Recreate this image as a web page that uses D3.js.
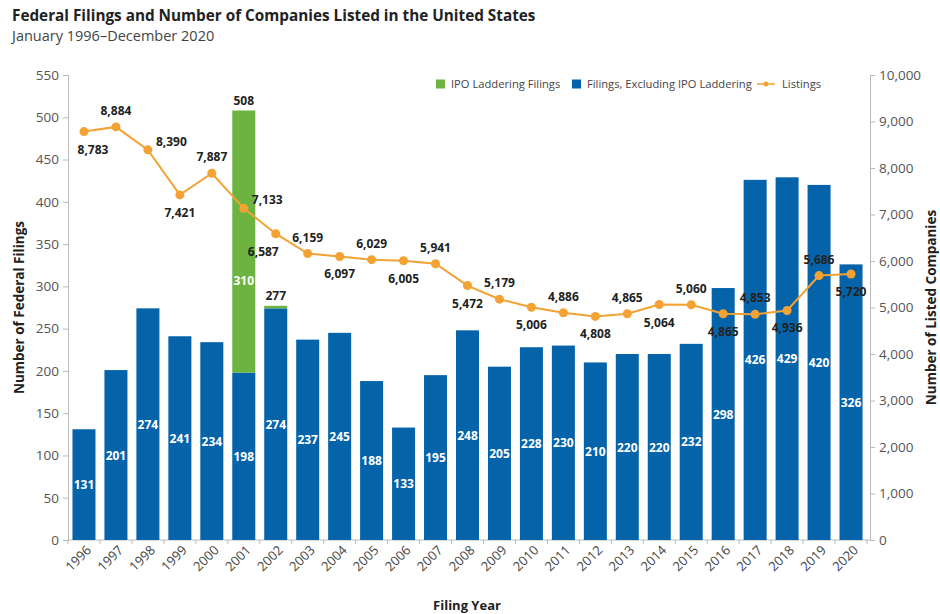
<!DOCTYPE html>
<html>
<head>
<meta charset="utf-8">
<script src="https://cdn.jsdelivr.net/npm/d3@7"></script>
<style>
  body { margin: 0; background: #fff; }
  svg text { font-family: "Open Sans", "Noto Sans", sans-serif; }
</style>
</head>
<body>
<div id="chart"></div>
<script>
// DATA
////////////////////////////
var years = ["1996","1997","1998","1999","2000","2001","2002","2003","2004","2005","2006","2007","2008",
             "2009","2010","2011","2012","2013","2014","2015","2016","2017","2018","2019","2020"];
var filingsExLaddering = [131,201,274,241,234,198,274,237,245,188,133,195,248,205,228,230,210,220,220,232,298,426,429,420,326];
var laddering          = [0,0,0,0,0,310,3,0,0,0,0,0,0,0,0,0,0,0,0,0,0,0,0,0,0];
var listings = [8783,8884,8390,7421,7887,7133,6587,6159,6097,6029,6005,5941,5472,5179,5006,4886,4808,4865,5064,5060,4865,4853,4936,5686,5720];
// where the listings label sits: a = above, b = below, r = right, br / bl = below shifted
var labelPos = ["br","a","r","b","a","r","bl","a","b","a","b","a","b","a","b","a","b","a","b","a","b","a","b","a","b"];
var leftTicks = d3.range(0, 551, 50);
var rightTicks = d3.range(0, 10001, 1000);

// SETUP
////////////////////////////
var width = 940, height = 614;
var margin = {left: 68, right: 72, top: 75, bottom: 74};

var blue = "#0563a9", green = "#6cb33f", orange = "#f3a233";

var svg = d3.select("#chart").append("svg")
    .attr("width", width)
    .attr("height", height);

var x = d3.scaleBand()
    .domain(years)
    .range([margin.left, 867])
    .paddingInner(0.28)
    .paddingOuter(0.14);

var yL = d3.scaleLinear().domain([0, 550]).range([height - margin.bottom, margin.top]);
var yR = d3.scaleLinear().domain([0, 10000]).range([height - margin.bottom, margin.top]);
var y0 = yL(0);

// TITLES
svg.append("text").attr("x", 12).attr("y", 21)
    .style("font-size", "15.3px").style("font-weight", "bold").attr("fill", "#222")
    .text("Federal Filings and Number of Companies Listed in the United States");
svg.append("text").attr("x", 12).attr("y", 41)
    .style("font-size", "14.5px").attr("fill", "#444")
    .text("January 1996\u2013December 2020");

// AXES
////////////////////////////
var axisL = svg.append("g")
    .attr("transform", "translate(" + margin.left + ",0)")
    .call(d3.axisLeft(yL).tickValues(leftTicks).tickSize(5).tickPadding(4));
var axisR = svg.append("g")
    .attr("transform", "translate(870,0)")
    .call(d3.axisRight(yR).tickValues(rightTicks).tickSize(5).tickPadding(4).tickFormat(d3.format(",")));
[axisL, axisR].forEach(function(a) {
  a.select(".domain").attr("stroke", "#bbb");
  a.selectAll(".tick line").attr("stroke", "#bbb");
  a.selectAll(".tick text").attr("fill", "#555").style("font-size", "13.5px");
});

// bottom axis: baseline, ticks between bands, rotated year labels
svg.append("line")
    .attr("x1", margin.left).attr("x2", 870)
    .attr("y1", y0).attr("y2", y0)
    .attr("stroke", "#bbb");
svg.selectAll(".xtick")
    .data(d3.range(years.length + 1))
    .enter().append("line")
    .attr("class", "xtick")
    .attr("x1", function(i) { return x.range()[0] + i * x.step(); })
    .attr("x2", function(i) { return x.range()[0] + i * x.step(); })
    .attr("y1", y0).attr("y2", y0 + 4)
    .attr("stroke", "#bbb");
svg.selectAll(".xlabel")
    .data(years)
    .enter().append("text")
    .attr("class", "xlabel")
    .attr("text-anchor", "end")
    .attr("transform", function(d) {
      return "translate(" + (x(d) + x.bandwidth() / 2 + 8) + "," + (y0 + 11) + ") rotate(-45)";
    })
    .attr("fill", "#444")
    .style("font-size", "13px")
    .text(function(d) { return d; });

// axis titles
svg.append("text")
    .attr("transform", "translate(24," + (yL(275)) + ") rotate(-90)")
    .attr("text-anchor", "middle")
    .style("font-size", "13.5px").style("font-weight", "bold").attr("fill", "#222")
    .text("Number of Federal Filings");
svg.append("text")
    .attr("transform", "translate(936," + (yR(5000)) + ") rotate(-90)")
    .attr("text-anchor", "middle")
    .style("font-size", "13.5px").style("font-weight", "bold").attr("fill", "#222")
    .text("Number of Listed Companies");
svg.append("text")
    .attr("x", 467).attr("y", 610)
    .attr("text-anchor", "middle")
    .style("font-size", "13px").style("font-weight", "bold").attr("fill", "#222")
    .text("Filing Year");

// BARS
////////////////////////////
var bars = years.map(function(d, i) {
  return {year: d, ex: filingsExLaddering[i], lad: laddering[i]};
});

svg.selectAll(".barEx")
    .data(bars)
    .enter().append("rect")
    .attr("class", "barEx")
    .attr("x", function(d) { return x(d.year); })
    .attr("width", x.bandwidth())
    .attr("y", function(d) { return yL(d.ex); })
    .attr("height", function(d) { return y0 - yL(d.ex); })
    .attr("fill", blue);

svg.selectAll(".barLad")
    .data(bars.filter(function(d) { return d.lad > 0; }))
    .enter().append("rect")
    .attr("class", "barLad")
    .attr("x", function(d) { return x(d.year); })
    .attr("width", x.bandwidth())
    .attr("y", function(d) { return yL(d.ex + d.lad); })
    .attr("height", function(d) { return yL(d.ex) - yL(d.ex + d.lad); })
    .attr("fill", green);

// white labels inside the blue bars
svg.selectAll(".lblEx")
    .data(bars)
    .enter().append("text")
    .attr("class", "lblEx")
    .attr("x", function(d) { return x(d.year) + x.bandwidth() / 2; })
    .attr("y", function(d) { return yL(d.ex / 2) + 4.5; })
    .attr("text-anchor", "middle")
    .attr("fill", "#fff")
    .style("font-size", "12px").style("font-weight", "bold")
    .text(function(d) { return d.ex; });

// label inside the big green segment (only 2001 is tall enough)
svg.selectAll(".lblLad")
    .data(bars.filter(function(d) { return d.lad > 50; }))
    .enter().append("text")
    .attr("class", "lblLad")
    .attr("x", function(d) { return x(d.year) + x.bandwidth() / 2; })
    .attr("y", function(d) { return yL(d.ex + d.lad * 0.35) + 4.5; })
    .attr("text-anchor", "middle")
    .attr("fill", "#fff")
    .style("font-size", "12px").style("font-weight", "bold")
    .text(function(d) { return d.lad; });

// totals above stacked bars
svg.selectAll(".lblTot")
    .data(bars.filter(function(d) { return d.lad > 0; }))
    .enter().append("text")
    .attr("class", "lblTot")
    .attr("x", function(d) { return x(d.year) + x.bandwidth() / 2; })
    .attr("y", function(d) { return yL(d.ex + d.lad) - 6; })
    .attr("text-anchor", "middle")
    .attr("fill", "#222")
    .style("font-size", "12px").style("font-weight", "bold")
    .text(function(d) { return d.ex + d.lad; });

// LISTINGS LINE
////////////////////////////
var pts = years.map(function(d, i) { return {year: d, v: listings[i], pos: labelPos[i]}; });
var cx = function(d) { return x(d.year) + x.bandwidth() / 2; };

svg.append("path")
    .datum(pts)
    .attr("fill", "none")
    .attr("stroke", orange)
    .attr("stroke-width", 2)
    .attr("d", d3.line().x(cx).y(function(d) { return yR(d.v); }));

svg.selectAll(".dot")
    .data(pts)
    .enter().append("circle")
    .attr("class", "dot")
    .attr("cx", cx)
    .attr("cy", function(d) { return yR(d.v); })
    .attr("r", 4.5)
    .attr("fill", orange);

var fmt = d3.format(",");
svg.selectAll(".lblLine")
    .data(pts)
    .enter().append("text")
    .attr("class", "lblLine")
    .attr("x", function(d) {
      if (d.pos == "r") return cx(d) + 8;
      if (d.pos == "br") return cx(d) + 9;
      if (d.pos == "bl") return cx(d) + 3;
      return cx(d);
    })
    .attr("y", function(d) {
      var y = yR(d.v);
      if (d.pos == "a") return y - 12;
      if (d.pos == "r") return y - 4;
      return y + 22;
    })
    .attr("text-anchor", function(d) {
      if (d.pos == "r") return "start";
      if (d.pos == "bl") return "end";
      return "middle";
    })
    .attr("fill", "#222")
    .style("font-size", "12px").style("font-weight", "bold")
    .text(function(d) { return fmt(d.v); });

// LEGEND
////////////////////////////
var legendItems = [
  {label: "IPO Laddering Filings", color: green, type: "rect", x: 436},
  {label: "Filings, Excluding IPO Laddering", color: blue, type: "rect", x: 572},
  {label: "Listings", color: orange, type: "line", x: 757}
];
var lg = svg.selectAll(".legend")
    .data(legendItems)
    .enter().append("g")
    .attr("class", "legend")
    .attr("transform", function(d) { return "translate(" + d.x + ",84)"; });
lg.filter(function(d) { return d.type == "rect"; })
    .append("rect")
    .attr("x", 0).attr("y", -4.5).attr("width", 9).attr("height", 9)
    .attr("fill", function(d) { return d.color; });
lg.filter(function(d) { return d.type == "line"; })
    .append("line")
    .attr("x1", 0).attr("x2", 18).attr("y1", 0).attr("y2", 0)
    .attr("stroke", orange).attr("stroke-width", 1.5);
lg.filter(function(d) { return d.type == "line"; })
    .append("circle")
    .attr("cx", 9).attr("cy", 0).attr("r", 2.5).attr("fill", orange);
lg.append("text")
    .attr("x", function(d) { return d.type == "line" ? 25 : 15; })
    .attr("y", 4)
    .attr("fill", "#444")
    .style("font-size", "11.2px")
    .text(function(d) { return d.label; });
</script>
</body>
</html>
